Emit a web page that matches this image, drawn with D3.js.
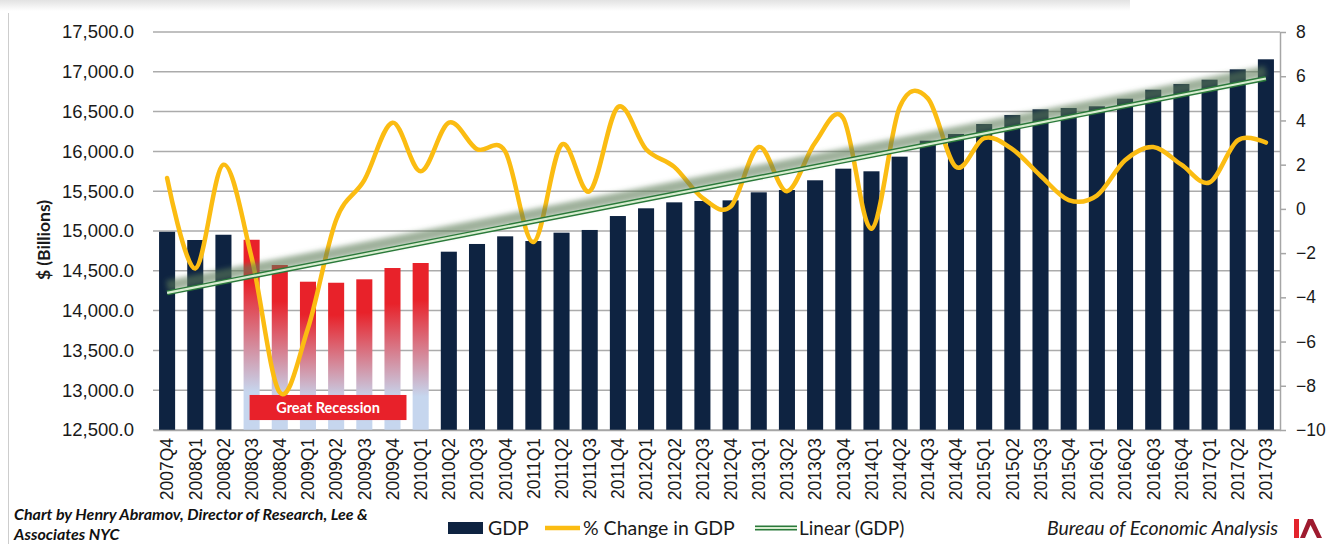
<!DOCTYPE html>
<html>
<head>
<meta charset="utf-8">
<script src="https://cdn.jsdelivr.net/npm/d3@7/dist/d3.min.js"></script>
<style>
    body { margin: 0; background: #fff; }
    svg { display: block; font-family: Lato, "Open Sans", sans-serif; }
</style>
</head>
<body>
<div id="chart"></div>
<script>
// quarters on the x axis
var quarters = ["2007Q4",
    "2008Q1", "2008Q2", "2008Q3", "2008Q4",
    "2009Q1", "2009Q2", "2009Q3", "2009Q4",
    "2010Q1", "2010Q2", "2010Q3", "2010Q4",
    "2011Q1", "2011Q2", "2011Q3", "2011Q4",
    "2012Q1", "2012Q2", "2012Q3", "2012Q4",
    "2013Q1", "2013Q2", "2013Q3", "2013Q4",
    "2014Q1", "2014Q2", "2014Q3", "2014Q4",
    "2015Q1", "2015Q2", "2015Q3", "2015Q4",
    "2016Q1", "2016Q2", "2016Q3", "2016Q4",
    "2017Q1", "2017Q2", "2017Q3"];

// real GDP, $ billions (left axis)
var gdp = [14990,
    14887, 14953, 14890, 14573,
    14363, 14350, 14393, 14535,
    14598, 14740, 14837, 14933,
    14874, 14979, 15013, 15188,
    15285, 15360, 15377, 15385,
    15486, 15515, 15637, 15783,
    15750, 15934, 16135, 16219,
    16344, 16457, 16529, 16545,
    16567, 16662, 16775, 16847,
    16901, 17031, 17157];

// % change in GDP (right axis)
var pctChange = [1.4,
    -2.7, 2.0, -2.2, -8.3,
    -5.4, -0.5, 1.3, 3.9,
    1.7, 3.9, 2.7, 2.6,
    -1.5, 2.9, 0.8, 4.6,
    2.7, 1.9, 0.5, 0.1,
    2.8, 0.8, 3.0, 4.1,
    -0.9, 4.6, 5.0, 1.9,
    3.2, 2.7, 1.5, 0.4,
    0.6, 2.2, 2.8, 2.0,
    1.2, 3.1, 3.0];

// quarters shaded as the Great Recession
var recession = ["2008Q3", "2008Q4", "2009Q1", "2009Q2", "2009Q3", "2009Q4", "2010Q1"];

var leftTicks = [12500, 13000, 13500, 14000, 14500, 15000, 15500, 16000, 16500, 17000, 17500];
var rightTicks = [-10, -8, -6, -4, -2, 0, 2, 4, 6, 8];

var W = 1327, H = 544;
var margin = {top: 32, right: 47, bottom: 114, left: 153};
var width = W - margin.left - margin.right;   // 1127
var height = H - margin.top - margin.bottom;  // 398

var svg = d3.select("#chart").append("svg")
    .attr("width", W)
    .attr("height", H);

var defs = svg.append("defs");

// red -> pale blue fade for the recession bars
var grad = defs.append("linearGradient")
    .attr("id", "recGrad")
    .attr("x1", 0).attr("y1", 0).attr("x2", 0).attr("y2", 1);
grad.append("stop").attr("offset", "0").attr("stop-color", "#e8222a");
grad.append("stop").attr("offset", "0.22").attr("stop-color", "#e8222a");
grad.append("stop").attr("offset", "0.8").attr("stop-color", "#c6d6ee");
grad.append("stop").attr("offset", "1").attr("stop-color", "#c6d6ee");

// faint shadow strip along the top of the page
var topGrad = defs.append("linearGradient")
    .attr("id", "topGrad")
    .attr("x1", 0).attr("y1", 0).attr("x2", 0).attr("y2", 1);
topGrad.append("stop").attr("offset", "0").attr("stop-color", "#e2e2e2");
topGrad.append("stop").attr("offset", "1").attr("stop-color", "#ffffff");

defs.append("filter")
    .attr("id", "blur")
    .attr("x", "-10%").attr("y", "-100%").attr("width", "120%").attr("height", "300%")
    .append("feGaussianBlur").attr("stdDeviation", 2.6);

svg.append("rect")
    .attr("x", 0).attr("y", 0)
    .attr("width", 1130).attr("height", 11)
    .attr("fill", "url(#topGrad)");

svg.append("line")
    .attr("x1", 8.5).attr("x2", 8.5)
    .attr("y1", 13).attr("y2", H)
    .attr("stroke", "#cdcdcd");

var g = svg.append("g")
    .attr("transform", "translate(" + margin.left + "," + margin.top + ")");

// scales
var x = d3.scaleBand()
    .domain(quarters)
    .range([0, width])
    .paddingInner(0.43)
    .paddingOuter(0.215);

var yL = d3.scaleLinear()
    .domain([12500, 17500])
    .range([height, 0]);

var yR = d3.scaleLinear()
    .domain([-10, 8])
    .range([height, 0]);

var cx = function(q) { return x(q) + x.bandwidth() / 2; };

// horizontal grid lines
g.append("g")
    .attr("class", "grid")
    .selectAll("line")
    .data(leftTicks)
    .enter().append("line")
    .attr("x1", 0).attr("x2", width)
    .attr("y1", function(d) { return yL(d); })
    .attr("y2", function(d) { return yL(d); })
    .attr("stroke", "#ababab")
    .attr("stroke-width", 1.5);

// left axis, labels only
var leftAxis = g.append("g")
    .call(d3.axisLeft(yL).tickValues(leftTicks).tickSize(0).tickPadding(19)
        .tickFormat(d3.format(",.1f")));
leftAxis.select(".domain").remove();
leftAxis.selectAll("text")
    .attr("fill", "#1a1a1a")
    .style("font-size", "18.5px");

// GDP bars
g.selectAll(".bar")
    .data(quarters)
    .enter().append("rect")
    .attr("class", "bar")
    .attr("x", function(d) { return x(d); })
    .attr("width", x.bandwidth())
    .attr("y", function(d, i) { return yL(gdp[i]); })
    .attr("height", function(d, i) { return height - yL(gdp[i]); })
    .attr("fill", function(d) { return recession.indexOf(d) >= 0 ? "url(#recGrad)" : "#0e2341"; });

// bottom axis
var bottomAxis = g.append("g")
    .attr("transform", "translate(0," + height + ")")
    .call(d3.axisBottom(x).tickSize(0).tickSizeOuter(0));
bottomAxis.select(".domain")
    .attr("stroke", "#a6a6a6")
    .attr("stroke-width", 1.5);
bottomAxis.selectAll("text")
    .attr("fill", "#1a1a1a")
    .style("font-size", "17.5px")
    .style("text-anchor", "end")
    .attr("transform", "rotate(-90)")
    .attr("x", -8)
    .attr("y", 0)
    .attr("dy", "0.36em");

// right axis
var rightAxis = g.append("g")
    .attr("transform", "translate(" + width + ",0)")
    .call(d3.axisRight(yR).tickValues(rightTicks).tickSize(6).tickSizeOuter(0).tickPadding(10));
rightAxis.select(".domain").attr("stroke", "#a6a6a6").attr("stroke-width", 1.5);
rightAxis.selectAll(".tick line").attr("stroke", "#a6a6a6").attr("stroke-width", 1.5);
rightAxis.selectAll("text")
    .attr("fill", "#1a1a1a")
    .style("font-size", "17.5px");

// Great Recession tag
var tagLeft = cx("2008Q3") - 2;
var tagRight = cx("2009Q4") + 14;
g.append("rect")
    .attr("x", tagLeft)
    .attr("y", yL(12940))
    .attr("width", tagRight - tagLeft)
    .attr("height", yL(12625) - yL(12940))
    .attr("fill", "#e8212a");
g.append("text")
    .attr("x", (tagLeft + tagRight) / 2)
    .attr("y", (yL(12940) + yL(12625)) / 2)
    .attr("dy", "0.36em")
    .attr("text-anchor", "middle")
    .attr("fill", "#fff")
    .style("font-size", "14.5px")
    .style("font-weight", "bold")
    .text("Great Recession");

// % change line, smoothed like the spreadsheet
var pctLine = d3.line()
    .x(function(d, i) { return cx(quarters[i]); })
    .y(function(d) { return yR(d); })
    .curve(d3.curveCardinal.tension(0));

g.append("path")
    .datum(pctChange)
    .attr("fill", "none")
    .attr("stroke", "#fbbc12")
    .attr("stroke-width", 4.5)
    .attr("stroke-linecap", "round")
    .attr("d", pctLine);

// least squares trend on GDP
var n = gdp.length;
var meanI = (n - 1) / 2;
var meanV = d3.mean(gdp);
var sxy = 0, sxx = 0;
gdp.forEach(function(v, i) {
    sxy += (i - meanI) * (v - meanV);
    sxx += (i - meanI) * (i - meanI);
});
var slope = sxy / sxx;
var intercept = meanV - slope * meanI;
var trend = [0, n - 1].map(function(i) { return {i: i, v: intercept + slope * i}; });

var trendLine = d3.line()
    .x(function(d) { return cx(quarters[d.i]); })
    .y(function(d) { return yL(d.v); });

// soft glow above the trend
g.append("path")
    .datum(trend)
    .attr("transform", "translate(0,-7)")
    .attr("fill", "none")
    .attr("stroke", "#5d7d58")
    .attr("stroke-opacity", 0.6)
    .attr("stroke-width", 11)
    .attr("filter", "url(#blur)")
    .attr("d", trendLine);

g.append("path")
    .datum(trend)
    .attr("fill", "none")
    .attr("stroke", "#2a7a3a")
    .attr("stroke-width", 5)
    .attr("d", trendLine);
g.append("path")
    .datum(trend)
    .attr("fill", "none")
    .attr("stroke", "#d8ecd0")
    .attr("stroke-width", 2.2)
    .attr("d", trendLine);

// y axis title
svg.append("text")
    .attr("transform", "translate(50,240) rotate(-90)")
    .attr("text-anchor", "middle")
    .attr("fill", "#1a1a1a")
    .style("font-size", "17.5px")
    .style("font-weight", "bold")
    .text("$ (Billions)");

// legend
var legend = svg.append("g").attr("transform", "translate(0,528)");
legend.append("rect")
    .attr("x", 448).attr("y", -6)
    .attr("width", 35).attr("height", 12)
    .attr("fill", "#0e2341");
legend.append("text")
    .attr("x", 488).attr("dy", "0.36em")
    .style("font-size", "19.5px").attr("fill", "#1a1a1a")
    .text("GDP");
legend.append("line")
    .attr("x1", 545).attr("x2", 580)
    .attr("stroke", "#fbbc12").attr("stroke-width", 4.5);
legend.append("text")
    .attr("x", 583).attr("dy", "0.36em")
    .style("font-size", "19.5px").attr("fill", "#1a1a1a")
    .text("% Change in GDP");
legend.append("line")
    .attr("x1", 755).attr("x2", 797)
    .attr("stroke", "#2a7a3a").attr("stroke-width", 5);
legend.append("line")
    .attr("x1", 755).attr("x2", 797)
    .attr("stroke", "#d8ecd0").attr("stroke-width", 2.2);
legend.append("text")
    .attr("x", 799).attr("dy", "0.36em")
    .style("font-size", "19px").attr("fill", "#1a1a1a")
    .text("Linear (GDP)");

// credits
var credit = svg.append("text")
    .attr("x", 14)
    .attr("fill", "#111")
    .style("font-size", "16px")
    .style("font-weight", "bold")
    .style("font-style", "italic");
credit.append("tspan").attr("x", 14).attr("y", 520)
    .text("Chart by Henry Abramov, Director of Research, Lee &");
credit.append("tspan").attr("x", 14).attr("y", 540)
    .text("Associates NYC");

svg.append("text")
    .attr("x", 1278).attr("y", 528).attr("dy", "0.36em")
    .attr("text-anchor", "end")
    .attr("fill", "#1a1a1a")
    .style("font-size", "19.5px")
    .style("font-style", "italic")
    .text("Bureau of Economic Analysis");

// logo mark
var logo = svg.append("g");
logo.append("polygon")
    .attr("points", "1294,519 1299,519 1299,538 1294,538")
    .attr("fill", "#e3232c");
logo.append("polygon")
    .attr("points", "1300,538 1308,519 1313,519 1322,538 1317,538 1310.5,525 1305,538")
    .attr("fill", "#9e1b2f");
</script>
</body>
</html>
